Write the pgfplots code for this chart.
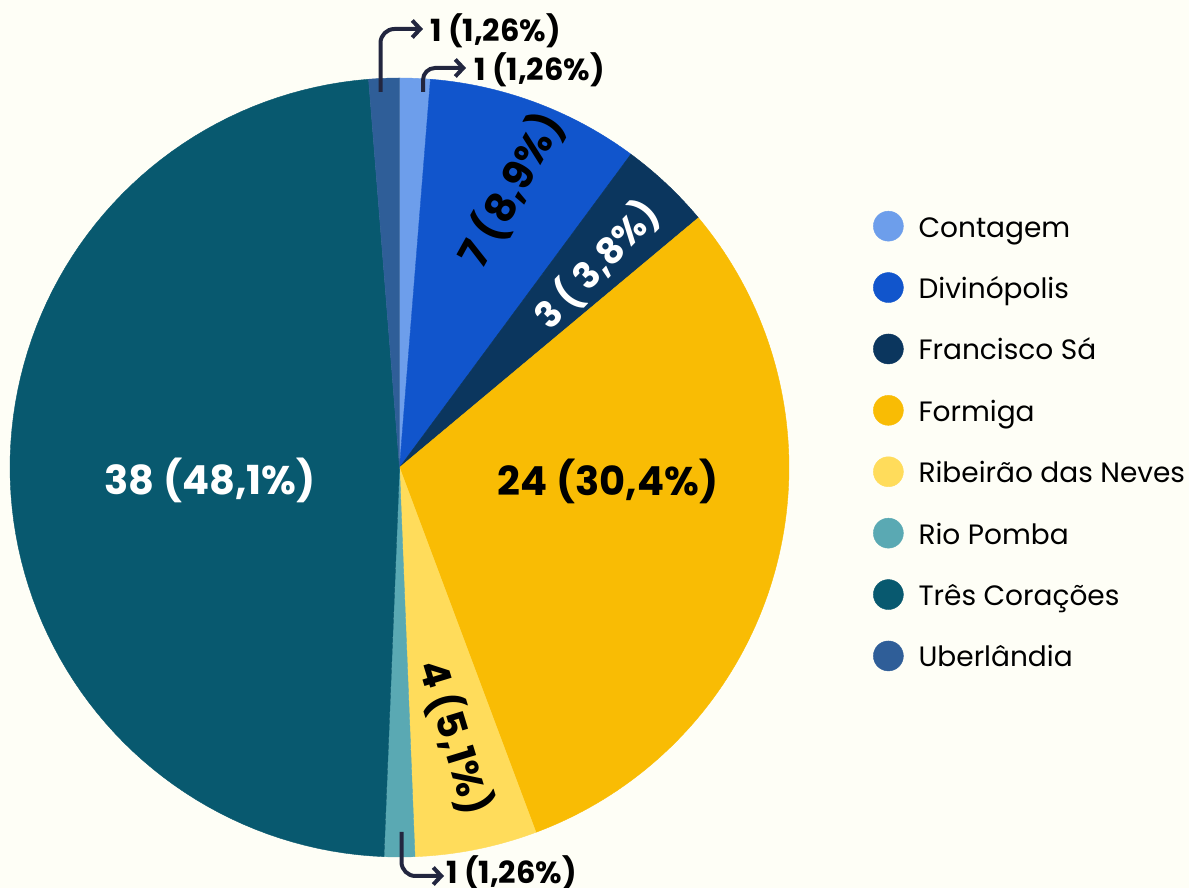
\documentclass[border=0pt]{standalone}
\usepackage{fontspec}
\setmainfont{Poppins}
\usepackage{pgfplots}
\pgfplotsset{compat=1.18}
\usetikzlibrary{arrows.meta}
\definecolor{bg}{HTML}{FEFEF6}
\definecolor{cCont}{HTML}{6D9EEB}
\definecolor{cDiv}{HTML}{1155CC}
\definecolor{cFran}{HTML}{0B365E}
\definecolor{cForm}{HTML}{F9BC04}
\definecolor{cRib}{HTML}{FFDC5B}
\definecolor{cRio}{HTML}{5AA9B3}
\definecolor{cTres}{HTML}{08596F}
\definecolor{cUber}{HTML}{2F5E98}
\definecolor{cArrow}{HTML}{22263F}
\newcommand{\cx}{399.5}
\newcommand{\cy}{420.5}
\newcommand{\rr}{389.5}
\newcommand{\total}{79}
% #1 = cumulative count before slice, #2 = count, #3 = colour
\newcommand{\slice}[3]{%
  \pgfmathsetmacro\aS{90-(#1)/\total*360}%
  \pgfmathsetmacro\aE{90-(#1+#2)/\total*360}%
  \edef\doslice{\noexpand\addplot[fill=#3,draw=#3,line width=0.4pt,domain=\aE:\aS,samples=90,variable=\noexpand\t]
    ({\cx+\rr*cos(\noexpand\t)},{\cy+\rr*sin(\noexpand\t)}) -- (axis cs:\cx,\cy) -- cycle;}%
  \doslice}
\begin{document}
\begin{tikzpicture}
\begin{axis}[
  width=1189pt, height=888pt, scale only axis,
  xmin=0, xmax=1189, ymin=0, ymax=888,
  axis lines=none, ticks=none, clip=false,
  axis background/.style={fill=bg},
  legend cell align=left,
  legend image code/.code={\fill[#1] (15pt,0pt) circle (15pt);},
  legend style={draw=none, fill=none, inner sep=0pt,
    at={(axis description cs:0.7342,0.7647)}, anchor=north west,
    font=\fontsize{28}{34}\selectfont,
    row sep=27.4pt, column sep=15pt,
    nodes={inner sep=0pt, text height=28pt, text depth=6pt}},
]
\slice{0}{1}{cCont}  \addlegendentry{Contagem}
\slice{1}{7}{cDiv}   \addlegendentry{Divinópolis}
\slice{8}{3}{cFran}  \addlegendentry{Francisco Sá}
\slice{11}{24}{cForm}\addlegendentry{Formiga}
\slice{35}{4}{cRib}  \addlegendentry{Ribeirão das Neves}
\slice{39}{1}{cRio}  \addlegendentry{Rio Pomba}
\slice{40}{38}{cTres}\addlegendentry{Três Corações}
\slice{78}{1}{cUber} \addlegendentry{Uberlândia}

% slice labels
\node[text=white, font=\bfseries\fontsize{40}{48}\selectfont] at (axis cs:210,408) {38 (48,1\%)};
\node[text=black, font=\bfseries\fontsize{40}{48}\selectfont] at (axis cs:608,407) {24 (30,4\%)};
\node[text=black, font=\bfseries\fontsize{41}{48}\selectfont, rotate=61] at (axis cs:511,698) {7 (8,9\%)};
\node[text=white, font=\bfseries\fontsize{36.5}{42}\selectfont, rotate=46] at (axis cs:597,623) {3 ( 3,8\%)};
\node[text=black, font=\bfseries\fontsize{39.5}{46}\selectfont, rotate=-73] at (axis cs:455,151) {4 (5,1\%)};

% small slice callouts
\draw[cArrow, line width=4pt, rounded corners=14pt, -{Straight Barb[length=8pt,width=17pt]}]
  (axis cs:380.5,796) -- (axis cs:380.5,859) -- (axis cs:423,859);
\node[anchor=west, inner sep=0pt, font=\bfseries\fontsize{30.5}{36}\selectfont] at (axis cs:430,857) {1 (1,26\%)};
\draw[cArrow, line width=4pt, rounded corners=12pt, -{Straight Barb[length=8pt,width=17pt]}]
  (axis cs:423,796) -- (axis cs:423,820) -- (axis cs:466,820);
\node[anchor=west, inner sep=0pt, font=\bfseries\fontsize{30.5}{36}\selectfont] at (axis cs:474,818) {1 (1,26\%)};
\draw[cArrow, line width=4pt, rounded corners=14pt, -{Straight Barb[length=8pt,width=17pt]}]
  (axis cs:401.5,56) -- (axis cs:401.5,12) -- (axis cs:444,12);
\node[anchor=west, inner sep=0pt, font=\bfseries\fontsize{30.5}{36}\selectfont] at (axis cs:446,15) {1 (1,26\%)};
\end{axis}
\pgfresetboundingbox
\path (current axis.south west) rectangle (current axis.north east);
\end{tikzpicture}
\end{document}
